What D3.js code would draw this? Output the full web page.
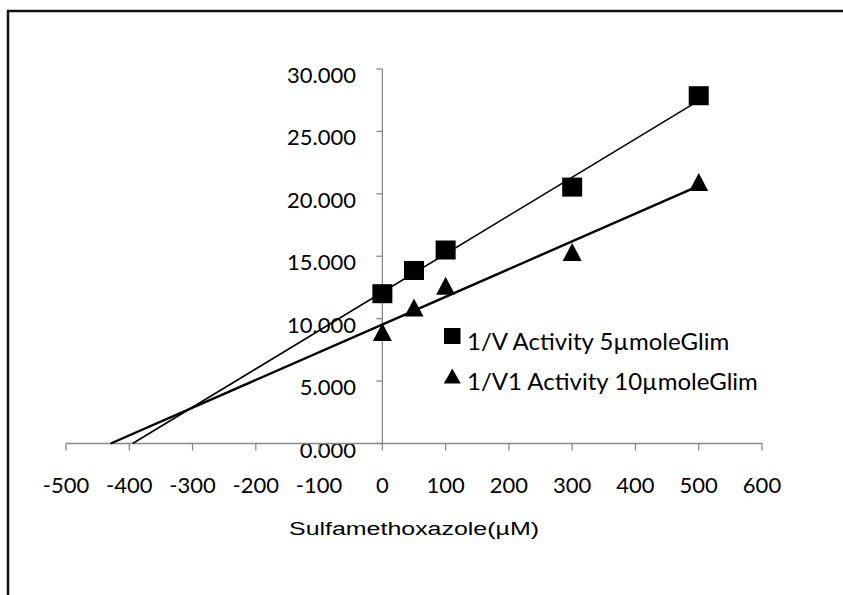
<!DOCTYPE html>
<html lang="en">
<head>
    <meta charset="UTF-8">
    <title>Sulfamethoxazole Lineweaver plot</title>
    <style>
        body { margin: 0; background: #fff; }
        svg { display: block; }
        .tick-label { font-family: Lato, "Open Sans", sans-serif; font-size: 22px; fill: #000; }
        .legend-label { font-family: Lato, "Open Sans", sans-serif; font-size: 24px; fill: #000; }
        .axis-title { font-family: "Liberation Sans", Arial, sans-serif; font-size: 18px; fill: #000; }
    </style>
</head>
<body>
    <div id="chart"></div>

    <script src="https://d3js.org/d3.v7.min.js"></script>
    <script>
        // data
        const concentrations = [0, 50, 100, 300, 500];
        const activity5 = [12.0, 13.86, 15.5, 20.54, 27.86];
        const activity10 = [8.93, 10.9, 12.64, 15.35, 20.94];
        const seriesNames = ["1/V Activity 5\u00b5moleGlim", "1/V1 Activity 10\u00b5moleGlim"];
        const xTicks = [-500, -400, -300, -200, -100, 0, 100, 200, 300, 400, 500, 600];
        const yTicks = [0, 5, 10, 15, 20, 25, 30];
        const xTitle = "Sulfamethoxazole(\u00b5M)";

        const W = 843, H = 595;
        const axisColor = "#898989";

        const svg = d3.select("#chart").append("svg")
            .attr("width", W)
            .attr("height", H);

        // outer frame (runs past the right and bottom edges)
        svg.append("rect")
            .attr("x", 8).attr("y", 11)
            .attr("width", 900).attr("height", 700)
            .attr("fill", "none")
            .attr("stroke", "#111")
            .attr("stroke-width", 2.5);

        const x = d3.scaleLinear().domain([-500, 600]).range([66, 762]);
        const y = d3.scaleLinear().domain([0, 30]).range([443.5, 69]);

        // y axis at x = 0
        const yAxis = svg.append("g");
        yAxis.append("line")
            .attr("x1", x(0)).attr("x2", x(0))
            .attr("y1", y(30)).attr("y2", y(0))
            .attr("stroke", axisColor).attr("stroke-width", 1.3);
        yAxis.selectAll(".ytick")
            .data(yTicks)
            .enter().append("line")
            .attr("x1", x(0) - 6).attr("x2", x(0))
            .attr("y1", d => y(d)).attr("y2", d => y(d))
            .attr("stroke", axisColor).attr("stroke-width", 1.3);
        yAxis.selectAll(".ylab")
            .data(yTicks)
            .enter().append("text")
            .attr("class", "tick-label")
            .attr("x", 356)
            .attr("y", d => y(d) + 14)
            .attr("text-anchor", "end")
            .text(d => d3.format(".3f")(d));

        // x axis at y = 0
        const xAxis = svg.append("g");
        xAxis.append("line")
            .attr("x1", x(-500)).attr("x2", x(600))
            .attr("y1", y(0)).attr("y2", y(0))
            .attr("stroke", axisColor).attr("stroke-width", 1.3);
        xAxis.selectAll(".xtick")
            .data(xTicks)
            .enter().append("line")
            .attr("x1", d => x(d)).attr("x2", d => x(d))
            .attr("y1", y(0)).attr("y2", y(0) + 7)
            .attr("stroke", axisColor).attr("stroke-width", 1.3);
        xAxis.selectAll(".xlab")
            .data(xTicks)
            .enter().append("text")
            .attr("class", "tick-label")
            .attr("x", d => x(d))
            .attr("y", 493)
            .attr("text-anchor", "middle")
            .text(d => d);

        svg.append("text")
            .attr("class", "axis-title")
            .attr("x", (x(-500) + x(600)) / 2)
            .attr("y", 535)
            .attr("text-anchor", "middle")
            .attr("textLength", 250)
            .attr("lengthAdjust", "spacingAndGlyphs")
            .text(xTitle);

        // least squares trendline, drawn back to where it meets y = 0
        function fit(xs, ys) {
            const mx = d3.mean(xs), my = d3.mean(ys);
            const sxy = d3.sum(xs, (v, i) => (v - mx) * (ys[i] - my));
            const sxx = d3.sum(xs, v => (v - mx) * (v - mx));
            const m = sxy / sxx;
            return { m: m, b: my - m * mx };
        }

        function drawTrend(ys, width) {
            const r = fit(concentrations, ys);
            const x0 = -r.b / r.m;
            const x1 = d3.max(concentrations);
            svg.append("line")
                .attr("x1", x(x0)).attr("y1", y(0))
                .attr("x2", x(x1)).attr("y2", y(r.m * x1 + r.b))
                .attr("stroke", "#000")
                .attr("stroke-width", width);
        }

        drawTrend(activity5, 1.6);
        drawTrend(activity10, 2.4);

        const triPath = (w, h) => `M0,${-h / 2}L${w / 2},${h / 2}L${-w / 2},${h / 2}Z`;

        // markers
        svg.selectAll(".sq")
            .data(concentrations.map((c, i) => [c, activity5[i]]))
            .enter().append("rect")
            .attr("x", d => x(d[0]) - 10)
            .attr("y", d => y(d[1]) - 9.5)
            .attr("width", 20).attr("height", 19)
            .attr("fill", "#000");

        svg.selectAll(".tri")
            .data(concentrations.map((c, i) => [c, activity10[i]]))
            .enter().append("path")
            .attr("transform", d => `translate(${x(d[0])},${y(d[1])})`)
            .attr("d", triPath(19, 18))
            .attr("fill", "#000");

        // legend
        const legend = svg.append("g");
        legend.append("rect")
            .attr("x", 444).attr("y", 328)
            .attr("width", 16.5).attr("height", 16)
            .attr("fill", "#000");
        legend.append("path")
            .attr("transform", "translate(452.3,376)")
            .attr("d", triPath(17, 15))
            .attr("fill", "#000");
        legend.selectAll(".leg")
            .data(seriesNames)
            .enter().append("text")
            .attr("class", "legend-label")
            .attr("x", 467)
            .attr("y", (d, i) => 350 + i * 39.5)
            .text(d => d);
    </script>
</body>
</html>
